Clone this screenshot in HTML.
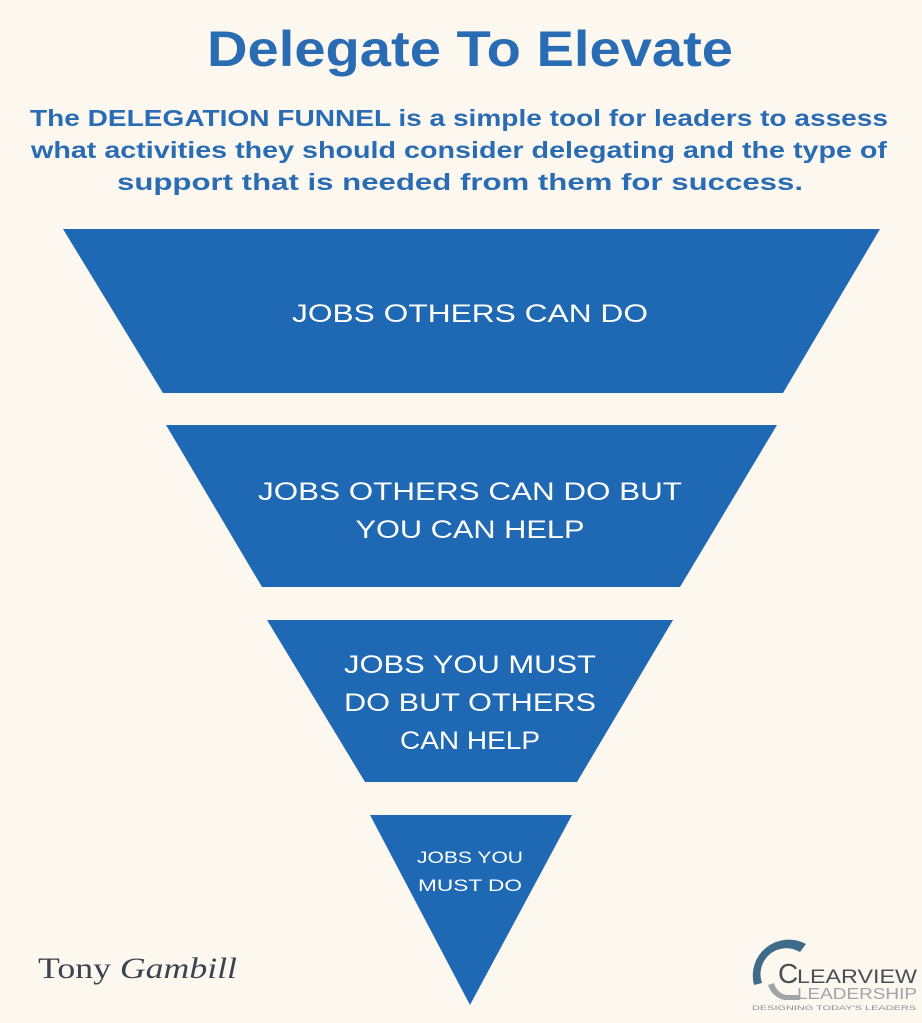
<!DOCTYPE html>
<html><head><meta charset="utf-8"><style>
html,body{margin:0;padding:0;background:#fdf8ef;}
svg{display:block}
</style></head><body>
<svg width="922" height="1023" viewBox="0 0 922 1023" xmlns="http://www.w3.org/2000/svg">
<rect width="922" height="1023" fill="#fdf8ef"/>
<g font-family="Liberation Sans, sans-serif" font-weight="bold" fill="#2a6cb3" text-anchor="middle">
<text x="470" y="66" font-size="50" textLength="526" lengthAdjust="spacingAndGlyphs">Delegate To Elevate</text>
<text x="459" y="126" font-size="23" textLength="858" lengthAdjust="spacingAndGlyphs">The DELEGATION FUNNEL is a simple tool for leaders to assess</text>
<text x="459" y="158" font-size="23" textLength="856" lengthAdjust="spacingAndGlyphs">what activities they should consider delegating and the type of</text>
<text x="460" y="190" font-size="23" textLength="686" lengthAdjust="spacingAndGlyphs">support that is needed from them for success.</text>
</g>
<g fill="#1f68b4">
<polygon points="63,229 880,229 783,393 163,393"/>
<polygon points="166,425 777,425 680,587 262,587"/>
<polygon points="267,620 673,620 577,782 365,782"/>
<polygon points="370,815 572,815 470,1005"/>
</g>
<g font-family="Liberation Sans, sans-serif" fill="#fff" text-anchor="middle" font-size="25">
<text x="470" y="322" textLength="356" lengthAdjust="spacingAndGlyphs">JOBS OTHERS CAN DO</text>
<text x="470" y="500" textLength="424" lengthAdjust="spacingAndGlyphs">JOBS OTHERS CAN DO BUT</text>
<text x="470" y="538" textLength="229" lengthAdjust="spacingAndGlyphs">YOU CAN HELP</text>
<text x="470" y="673" textLength="252" lengthAdjust="spacingAndGlyphs">JOBS YOU MUST</text>
<text x="470" y="711" textLength="252" lengthAdjust="spacingAndGlyphs">DO BUT OTHERS</text>
<text x="470" y="749" textLength="140" lengthAdjust="spacingAndGlyphs">CAN HELP</text>
<text x="470" y="863" font-size="17" textLength="106" lengthAdjust="spacingAndGlyphs">JOBS YOU</text>
<text x="470" y="891" font-size="17" textLength="104" lengthAdjust="spacingAndGlyphs">MUST DO</text>
</g>
<text x="38" y="978" font-family="Liberation Serif, serif" font-size="30" fill="#3b4350" textLength="199" lengthAdjust="spacingAndGlyphs">Tony <tspan font-style="italic">Gambill</tspan></text>
<g>
<path d="M754,985 A36,36 0 0 1 806,944 L800,952 A26,26 0 0 0 762,983 Z" fill="#3f6b8a"/>
<path d="M768,985 A22,22 0 0 0 784,1000 L800,1000 L800,995 L786,995 A16,16 0 0 1 774,983 Z" fill="#a0a4a8"/>
<text x="778" y="983" font-family="Liberation Sans, sans-serif" font-size="28" fill="#4a4f55">C</text>
<text x="797" y="983" font-family="Liberation Sans, sans-serif" font-size="19" fill="#4a4f55" textLength="120" lengthAdjust="spacingAndGlyphs">LEARVIEW</text>
<text x="797" y="999" font-family="Liberation Sans, sans-serif" font-size="16" fill="#a0a4a8" textLength="120" lengthAdjust="spacingAndGlyphs">LEADERSHIP</text>
<text x="752" y="1010" font-family="Liberation Sans, sans-serif" font-size="6" fill="#8a8e92" textLength="164" lengthAdjust="spacingAndGlyphs">DESIGNING TODAY'S LEADERS</text>
</g>
</svg>
</body></html>
